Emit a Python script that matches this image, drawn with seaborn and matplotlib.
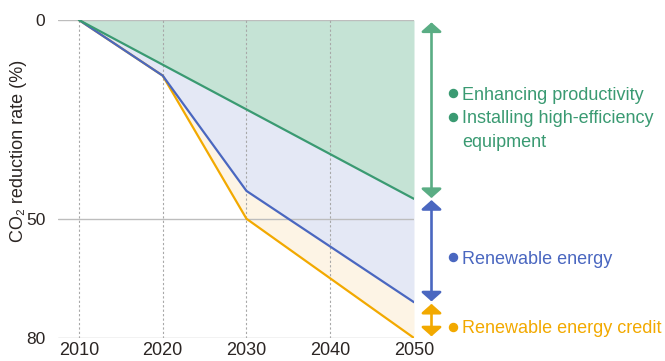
import matplotlib
matplotlib.use("Agg")
import matplotlib.pyplot as plt
import pandas as pd
import seaborn as sns

# --- data ---
years = [2010, 2020, 2030, 2040, 2050]
efficiency = [0, 11.25, 22.5, 33.75, 45]     # green line
renewable = [0, 14, 43, 57, 71]              # blue line
credit = [0, 14, 50, 65, 80]                 # orange line
y_ticks = [0, 50, 80]

green, green_fill, green_arrow = "#3a9a72", "#c5e3d5", "#5aad84"
blue, blue_fill = "#4a67c0", "#e4e8f5"
orange, orange_fill = "#f2a900", "#fdf4e5"
grid_col = "#bdbdbd"
text_col = "#2b2523"

sns.set_theme(style="white")
plt.rcParams["font.family"] = ["Liberation Sans", "DejaVu Sans"]

df = pd.DataFrame({"year": years, "efficiency": efficiency,
                   "renewable": renewable, "credit": credit})

fig = plt.figure(figsize=(6.65, 3.61), dpi=100)
W, H = 665, 361
ax = fig.add_axes([58 / W, (H - 338) / H, (414 - 58) / W, (338 - 20) / H])

ax.fill_between(df["year"], 0, df["efficiency"], color=green_fill, lw=0, zorder=1)
ax.fill_between(df["year"], df["efficiency"], df["renewable"], color=blue_fill, lw=0, zorder=1)
ax.fill_between(df["year"], df["renewable"], df["credit"], color=orange_fill, lw=0, zorder=1)

for y in y_ticks:
    ax.axhline(y, color=grid_col, lw=1, zorder=2)
for x in years[:-1]:
    ax.axvline(x, color="#a8a8a8", lw=0.8, ls=(0, (2, 2)), zorder=2)

sns.lineplot(data=df, x="year", y="credit", color=orange, lw=1.6, ax=ax, zorder=3)
sns.lineplot(data=df, x="year", y="renewable", color=blue, lw=1.6, ax=ax, zorder=3)
sns.lineplot(data=df, x="year", y="efficiency", color=green, lw=1.6, ax=ax, zorder=3)

ax.set_xlim(2007.5, 2050)
ax.set_ylim(80, 0)
ax.set_xticks(years)
ax.set_yticks(y_ticks)
ax.tick_params(axis="both", length=0, labelcolor=text_col)
ax.tick_params(axis="x", labelsize=13, pad=3)
ax.tick_params(axis="y", labelsize=12.5, pad=9)
for s in ax.spines.values():
    s.set_visible(False)
ax.set_xlabel("")
ax.set_ylabel("CO₂ reduction rate (%)", fontsize=13, color=text_col)
ax.yaxis.set_label_coords(-0.088, 0.59)

# arrows at the right
trans = ax.get_yaxis_transform()
ax_x = (431.5 - 58) / (414 - 58)
arrows = [(0.6, 44.8, green_arrow), (45.3, 70.8, blue), (71.4, 79.6, orange)]
for y0, y1, col in arrows:
    ax.annotate("", xy=(ax_x, y0), xytext=(ax_x, y1), xycoords=trans, textcoords=trans,
                annotation_clip=False,
                arrowprops=dict(arrowstyle="<|-|>,head_length=0.55,head_width=0.62",
                                mutation_scale=10, color=col, lw=1.9,
                                shrinkA=0, shrinkB=0))

# labels
bx = (452.5 - 58) / (414 - 58)
tx = (462 - 58) / (414 - 58)
labels = [
    (18.9, "Enhancing productivity", green, True),
    (24.9, "Installing high-efficiency", green, True),
    (30.8, "equipment", green, False),
    (60.2, "Renewable energy", blue, True),
    (77.7, "Renewable energy credit", orange, True),
]
for y, txt, col, bullet in labels:
    if bullet:
        ax.plot([bx], [y - 0.5], marker="o", ms=5.8, color=col, transform=trans, clip_on=False)
    ax.text(tx, y, txt, color=col, fontsize=13, va="center", ha="left", transform=trans)

fig.savefig("out.png", dpi=100)
